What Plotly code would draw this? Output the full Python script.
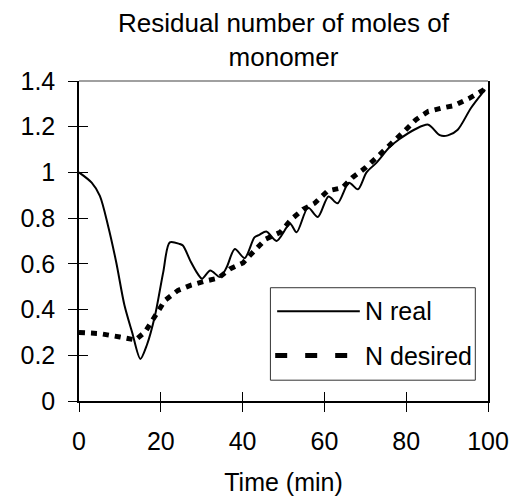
import plotly.graph_objects as go

# ---- data ----
time_real = [0, 3.1, 5.1, 7.1, 9.1, 11.1, 13, 15.0, 16.6, 18.6, 20.6, 22.2, 24.6, 25.4,
             27.4, 29, 30.1, 32.1, 34.5, 36.1, 38.1, 40.5, 42.9, 44.1, 45.8, 48.3, 51.6,
             53.2, 56, 58.4, 61, 63.2, 66, 68.2, 70.3, 72.7, 75.9, 78.3, 82.3, 85.4, 88.2,
             90.2, 92.6, 95.8, 98.6, 99.3]
n_real = [1.0, 0.955, 0.897, 0.767, 0.607, 0.42, 0.30, 0.184, 0.245, 0.375, 0.564, 0.694,
          0.687, 0.68, 0.607, 0.557, 0.535, 0.571, 0.542, 0.585, 0.665, 0.625, 0.716, 0.727,
          0.742, 0.70, 0.775, 0.738, 0.846, 0.805, 0.895, 0.865, 0.955, 0.926, 1.0, 1.042,
          1.11, 1.145, 1.19, 1.209, 1.163, 1.162, 1.187, 1.281, 1.347, 1.362]

time_desired = [0, 5, 10, 13.8, 16.2, 18.6, 21, 24.2, 27.4, 30.5, 34.1, 36.9, 40.1, 42.9,
                45.7, 49.2, 52, 54.8, 57.6, 60.8, 64.4, 66.8, 70, 72.7, 75.9, 79.5, 82.3,
                85.4, 88.6, 91.8, 95.4, 99.3]
n_desired = [0.30, 0.295, 0.28, 0.267, 0.303, 0.375, 0.44, 0.484, 0.507, 0.523, 0.538, 0.578,
             0.604, 0.658, 0.709, 0.738, 0.796, 0.839, 0.865, 0.919, 0.933, 0.977, 1.02, 1.064,
             1.122, 1.18, 1.23, 1.267, 1.281, 1.293, 1.324, 1.365]

x_ticks = [0, 20, 40, 60, 80, 100]
y_ticks = [0, 0.2, 0.4, 0.6, 0.8, 1.0, 1.2, 1.4]
y_tick_labels = ["0", "0.2", "0.4", "0.6", "0.8", "1", "1.2", "1.4"]
series_names = ["N real", "N desired"]
title_text = "Residual number of moles of<br>monomer"
x_title = "Time (min)"

FONT = "Liberation Sans, Arial, sans-serif"

fig = go.Figure()
fig.add_trace(go.Scatter(x=time_real, y=n_real, mode="lines", name=series_names[0],
                         line=dict(color="black", width=2, shape="spline", smoothing=0.8),
                         showlegend=False))
fig.add_trace(go.Scatter(x=time_desired, y=n_desired, mode="lines", name=series_names[1],
                         line=dict(color="black", width=5, dash="6px,6px"),
                         showlegend=False))
# invisible trace to carry the inside-tick overlay axes
fig.add_trace(go.Scatter(x=[None], y=[None], xaxis="x2", yaxis="y2", showlegend=False,
                         hoverinfo="skip"))

axis_common = dict(showgrid=False, zeroline=False, tickcolor="black", tickwidth=1,
                   ticklen=9, tickfont=dict(family=FONT, size=25, color="black"))

# page body has an 8px margin, so the figure is 8px smaller than the window
fig.update_layout(
    width=513, height=496,
    margin=dict(l=64, r=30, t=73, b=101),
    paper_bgcolor="white", plot_bgcolor="white",
    xaxis=dict(range=[0, 100], tickvals=x_ticks, ticks="outside", showline=True,
               linecolor="black", linewidth=1.5, ticklabelstandoff=8,
               title=dict(text=x_title, font=dict(family=FONT, size=25, color="black"),
                          standoff=20),
               **axis_common),
    yaxis=dict(range=[0, 1.4], tickvals=y_ticks, ticktext=y_tick_labels, ticks="outside",
               showline=True, linecolor="black", linewidth=1.5, mirror=True,
               ticklabelstandoff=8, **axis_common),
    xaxis2=dict(range=[0, 100], tickvals=x_ticks, ticks="inside", overlaying="x",
                anchor="y", showticklabels=False, showline=False, **axis_common),
    yaxis2=dict(range=[0, 1.4], tickvals=y_ticks, ticks="inside", overlaying="y",
                anchor="x", side="left", showticklabels=False, showline=False,
                **axis_common),
    showlegend=False,
)

# chart title
fig.add_annotation(text=title_text, xref="paper", yref="paper", x=0.5, y=1.026,
                   xanchor="center", yanchor="bottom", showarrow=False, borderpad=0,
                   font=dict(family=FONT, size=26, color="black"))

# gray top border of the plot area
fig.add_shape(type="line", xref="paper", yref="paper", x0=0, x1=1, y0=1, y1=1,
              line=dict(color="#808080", width=1.5), layer="below")

# legend (box, samples, labels)
fig.add_shape(type="rect", xref="paper", yref="paper", x0=0.468, x1=0.969, y0=0.065, y1=0.354,
              line=dict(color="#333333", width=1), fillcolor="white", layer="above")
fig.add_shape(type="line", xref="paper", yref="paper", x0=0.4845, x1=0.6866, y0=0.2804, y1=0.2804,
              line=dict(color="black", width=2))
fig.add_shape(type="line", xref="paper", yref="paper", x0=0.4797, x1=0.6642, y0=0.1419, y1=0.1419,
              line=dict(color="black", width=5, dash="12px,18px"))
fig.add_annotation(text=series_names[0], xref="paper", yref="paper", x=0.695, y=0.2804,
                   xanchor="left", yanchor="middle", showarrow=False,
                   font=dict(family=FONT, size=25, color="black"))
fig.add_annotation(text=series_names[1], xref="paper", yref="paper", x=0.695, y=0.1419,
                   xanchor="left", yanchor="middle", showarrow=False,
                   font=dict(family=FONT, size=25, color="black"))

fig.write_html("out.html")
